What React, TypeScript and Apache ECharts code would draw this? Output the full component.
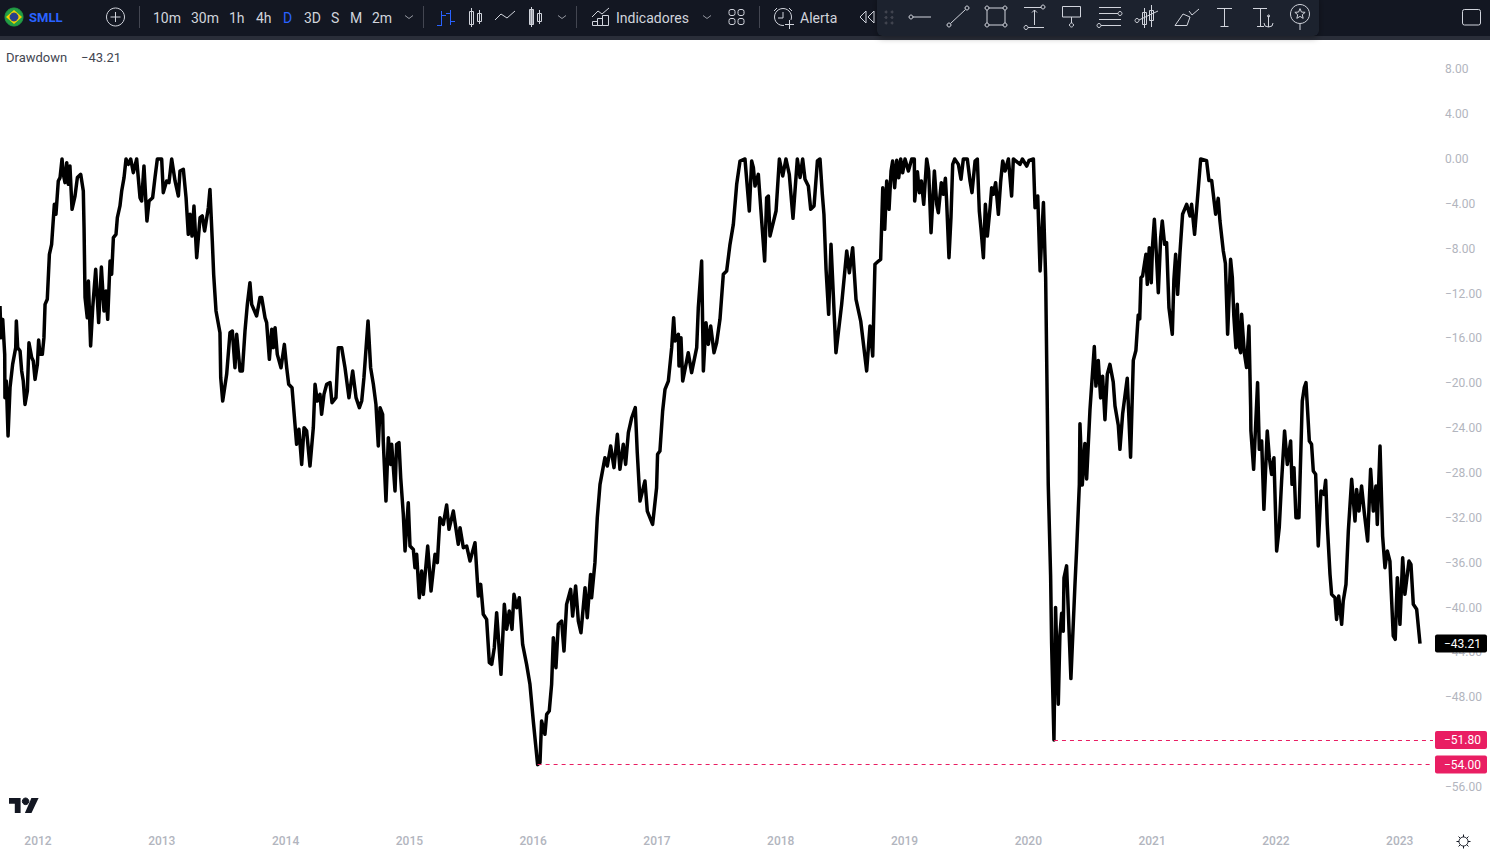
import React, { useEffect, useRef } from "react";
import * as echarts from "echarts";

const yearLabels = [2012, 2013, 2014, 2015, 2016, 2017, 2018, 2019, 2020, 2021, 2022, 2023];
const priceLabels = [8, 4, 0, -4, -8, -12, -16, -20, -24, -28, -32, -36, -40, -44, -48, -52, -56];
const lastValue = -43.21;
const troughs: [number, number][] = [[2016.036, -54], [2020.207, -51.8]];
const intervals = ["10m", "30m", "1h", "4h", "D", "3D", "S", "M", "2m"];

const period2011: [number, number][] = [
[2011.693,-13.11],[2011.701,-15.93],[2011.715,-14.30],[2011.731,-17.42],[2011.733,-21.28],[2011.744,-19.80],[2011.758,-24.70],[2011.774,-20.39],[2011.795,-18.31],[2011.820,-16.82],[2011.825,-14.44],[2011.836,-16.82],[2011.855,-17.12],[2011.868,-18.90],[2011.881,-19.80],[2011.895,-21.88],[2011.914,-20.69],[2011.927,-16.38],[2011.949,-17.71],[2011.962,-18.01],[2011.976,-19.65],[2011.995,-18.31],
];
const period2012: [number, number][] = [
[2012.005,-16.14],[2012.016,-17.42],[2012.035,-17.42],[2012.048,-15.93],[2012.057,-12.96],[2012.075,-12.51],[2012.092,-8.50],[2012.110,-7.61],[2012.132,-4.04],[2012.145,-4.93],[2012.164,-1.96],[2012.178,-1.66],[2012.194,0],[2012.205,-1.37],[2012.218,-2.11],[2012.232,-0.33],[2012.245,-2.26],[2012.258,-0.62],[2012.275,-4.49],[2012.299,-3.30],[2012.318,-1.66],[2012.345,-1.37],[2012.366,-2.85],[2012.372,-6.12],[2012.380,-12.36],[2012.398,-14.15],[2012.407,-10.88],[2012.425,-16.67],[2012.442,-13.26],[2012.466,-9.84],[2012.490,-14.59],[2012.512,-9.63],[2012.533,-13.55],[2012.549,-11.77],[2012.563,-14.30],[2012.582,-9.10],[2012.595,-10.28],[2012.609,-7.01],[2012.630,-6.72],[2012.641,-5.23],[2012.662,-4.19],[2012.676,-2.85],[2012.695,-1.66],[2012.711,0],[2012.730,-0.48],[2012.749,0],[2012.770,-1.22],[2012.797,0],[2012.824,-3.45],[2012.837,-3.75],[2012.856,-0.62],[2012.880,-5.53],[2012.897,-3.75],[2012.926,-3.45],[2012.945,-1.66],[2012.964,0],[2012.999,0],
];
const period2013: [number, number][] = [
[2013.012,-3.00],[2013.039,-1.96],[2013.058,-2.11],[2013.080,0],[2013.107,-1.96],[2013.134,-3.30],[2013.147,-1.07],[2013.174,-0.92],[2013.196,-3.45],[2013.214,-6.72],[2013.228,-4.93],[2013.244,-6.87],[2013.260,-4.19],[2013.282,-8.80],[2013.309,-5.23],[2013.327,-5.08],[2013.346,-6.42],[2013.376,-4.34],[2013.389,-2.71],[2013.408,-7.31],[2013.419,-10.28],[2013.438,-13.55],[2013.470,-15.49],[2013.476,-19.50],[2013.492,-21.58],[2013.524,-19.20],[2013.551,-15.49],[2013.570,-15.34],[2013.591,-18.61],[2013.605,-15.63],[2013.632,-18.90],[2013.651,-18.90],[2013.672,-15.34],[2013.691,-12.96],[2013.712,-11.03],[2013.726,-12.96],[2013.766,-14.00],[2013.793,-12.36],[2013.807,-12.36],[2013.834,-14.15],[2013.847,-14.59],[2013.869,-17.86],[2013.888,-15.19],[2013.901,-16.82],[2013.915,-15.04],[2013.933,-17.42],[2013.963,-18.61],[2013.990,-16.53],
];
const period2014: [number, number][] = [
[2014.009,-18.61],[2014.025,-20.09],[2014.052,-20.39],[2014.076,-23.66],[2014.089,-25.44],[2014.108,-24.10],[2014.130,-27.23],[2014.149,-23.96],[2014.170,-24.25],[2014.197,-27.38],[2014.224,-23.96],[2014.238,-20.09],[2014.256,-21.58],[2014.278,-20.99],[2014.291,-22.77],[2014.310,-20.99],[2014.332,-20.09],[2014.359,-19.94],[2014.375,-21.73],[2014.407,-21.28],[2014.426,-16.82],[2014.453,-16.82],[2014.480,-18.61],[2014.512,-21.28],[2014.542,-18.90],[2014.569,-21.28],[2014.596,-22.17],[2014.615,-21.58],[2014.633,-19.50],[2014.666,-14.44],[2014.687,-18.61],[2014.709,-20.09],[2014.730,-21.88],[2014.749,-25.59],[2014.763,-22.17],[2014.784,-22.77],[2014.789,-25.15],[2014.811,-30.50],[2014.830,-24.85],[2014.849,-27.23],[2014.857,-25.44],[2014.884,-29.60],[2014.897,-25.44],[2014.916,-25.29],[2014.930,-28.42],[2014.951,-31.68],[2014.965,-34.95],[2014.991,-30.64],
];
const period2015: [number, number][] = [
[2015.005,-34.51],[2015.032,-34.81],[2015.045,-36.44],[2015.059,-35.25],[2015.080,-39.12],[2015.099,-36.74],[2015.113,-38.82],[2015.148,-34.51],[2015.175,-38.52],[2015.207,-35.25],[2015.226,-35.99],[2015.247,-31.98],[2015.274,-32.58],[2015.301,-30.85],[2015.320,-33.02],[2015.355,-31.39],[2015.395,-34.36],[2015.409,-32.87],[2015.436,-34.66],[2015.463,-34.51],[2015.490,-35.85],[2015.530,-34.21],[2015.557,-38.97],[2015.576,-37.93],[2015.597,-40.60],[2015.624,-41.05],[2015.646,-44.91],[2015.665,-45.06],[2015.686,-43.57],[2015.705,-40.45],[2015.740,-45.95],[2015.767,-39.71],[2015.786,-41.94],[2015.807,-40.30],[2015.829,-41.94],[2015.845,-38.82],[2015.867,-40.01],[2015.888,-39.12],[2015.915,-43.28],[2015.947,-45.06],[2015.974,-46.84],
];
const period2016: [number, number][] = [
[2016.001,-50.11],[2016.036,-54.00],[2016.055,-53.83],[2016.068,-50.11],[2016.095,-51.30],[2016.109,-49.52],[2016.130,-49.22],[2016.149,-46.84],[2016.163,-42.68],[2016.184,-45.36],[2016.203,-41.49],[2016.230,-41.20],[2016.249,-43.87],[2016.270,-39.71],[2016.303,-38.37],[2016.319,-40.75],[2016.343,-38.07],[2016.365,-41.20],[2016.386,-42.24],[2016.419,-38.22],[2016.437,-40.90],[2016.464,-37.04],[2016.472,-39.12],[2016.499,-35.99],[2016.518,-31.98],[2016.540,-29.01],[2016.580,-26.63],[2016.599,-27.37],[2016.626,-25.59],[2016.653,-27.52],[2016.680,-24.55],[2016.701,-27.67],[2016.728,-25.44],[2016.747,-27.23],[2016.769,-24.40],[2016.796,-23.07],[2016.825,-22.17],[2016.841,-26.19],[2016.863,-30.50],[2016.903,-28.71],[2016.922,-31.39],[2016.965,-32.58],[2016.997,-29.31],
];
const period2017: [number, number][] = [
[2017.005,-26.33],[2017.024,-26.04],[2017.046,-22.47],[2017.065,-20.54],[2017.092,-19.80],[2017.119,-16.82],[2017.135,-14.15],[2017.146,-16.23],[2017.173,-15.63],[2017.178,-18.46],[2017.194,-15.93],[2017.208,-19.80],[2017.253,-17.27],[2017.280,-19.05],[2017.321,-16.82],[2017.334,-13.26],[2017.361,-9.10],[2017.375,-18.90],[2017.396,-14.60],[2017.415,-16.53],[2017.434,-14.89],[2017.461,-17.27],[2017.482,-16.38],[2017.509,-14.30],[2017.536,-10.28],[2017.563,-9.99],[2017.590,-7.61],[2017.617,-5.83],[2017.644,-2.26],[2017.671,-0.18],[2017.711,0],[2017.746,-4.64],[2017.765,-0.18],[2017.779,-0.77],[2017.792,-2.41],[2017.819,-1.37],[2017.846,-5.53],[2017.870,-9.10],[2017.886,-3.45],[2017.900,-3.30],[2017.913,-6.87],[2017.962,-4.64],[2017.989,0],
];
const period2018: [number, number][] = [
[2018.016,-1.52],[2018.042,0],[2018.069,-1.37],[2018.099,-5.29],[2018.134,0],[2018.156,-1.66],[2018.177,0],[2018.196,-1.81],[2018.223,-2.41],[2018.242,-4.49],[2018.269,-4.19],[2018.296,-0.18],[2018.317,0],[2018.336,-3.15],[2018.349,-4.93],[2018.366,-9.84],[2018.387,-13.85],[2018.406,-7.61],[2018.446,-17.27],[2018.492,-12.96],[2018.533,-8.20],[2018.554,-10.14],[2018.581,-7.91],[2018.608,-12.51],[2018.646,-14.45],[2018.694,-18.90],[2018.721,-14.89],[2018.743,-17.57],[2018.761,-9.39],[2018.790,-9.10],
[2018.807,-8.95],[2018.824,-2.56],[2018.840,-6.27],[2018.856,-1.96],[2018.875,-4.49],[2018.891,-1.07],[2018.904,-0.18],[2018.920,-2.56],[2018.937,-0.12],[2018.953,-1.67],[2018.969,0],[2018.985,-1.22],
];
const period2019: [number, number][] = [
[2019.004,0],[2019.031,-1.07],[2019.058,0],[2019.079,0],[2019.082,-3.75],[2019.104,-1.13],[2019.120,-3.00],[2019.136,-1.96],[2019.155,-4.04],[2019.179,0],[2019.195,-1.07],[2019.214,-6.57],[2019.241,-1.07],[2019.260,-4.04],[2019.273,-4.79],[2019.297,-2.11],[2019.314,-3.15],[2019.330,-1.72],[2019.340,-3.75],[2019.359,-8.80],[2019.375,-5.23],[2019.389,-0.48],[2019.405,0],[2019.435,-0.48],[2019.456,-1.81],[2019.475,0],[2019.507,0],[2019.529,-1.96],[2019.545,-3.00],[2019.570,-0.18],[2019.588,0],[2019.604,-4.64],[2019.618,-6.27],[2019.637,-8.80],[2019.653,-4.04],[2019.669,-6.87],[2019.691,-4.34],[2019.704,-2.56],[2019.717,-3.15],[2019.736,-2.11],[2019.758,-4.93],[2019.777,-1.96],[2019.793,-0.18],[2019.812,-1.07],[2019.839,0],[2019.865,-3.30],[2019.879,0],[2019.933,-0.48],[2019.952,0],[2019.987,-0.63],
];
const period2020: [number, number][] = [
[2020.006,-0.12],[2020.041,0],[2020.054,-4.34],[2020.076,-3.30],[2020.095,-9.99],[2020.122,-3.89],[2020.140,-10.58],[2020.161,-29.06],[2020.180,-37.16],[2020.188,-43.16],[2020.207,-51.80],[2020.220,-39.98],[2020.242,-48.62],[2020.255,-42.45],[2020.269,-40.51],[2020.282,-42.10],[2020.288,-37.34],[2020.309,-36.28],[2020.344,-46.33],[2020.377,-37.87],[2020.390,-34.87],[2020.412,-29.06],[2020.417,-23.60],[2020.436,-29.06],[2020.457,-25.36],[2020.471,-28.53],[2020.498,-22.36],[2020.533,-16.72],[2020.546,-20.25],[2020.565,-17.96],[2020.584,-21.30],[2020.600,-19.37],[2020.619,-23.24],[2020.638,-19.19],[2020.659,-18.31],[2020.686,-19.90],[2020.700,-22.01],[2020.727,-23.77],[2020.740,-25.89],[2020.762,-22.71],[2020.799,-19.54],[2020.826,-26.59],[2020.848,-17.96],[2020.869,-17.07],[2020.888,-13.90],[2020.900,-14.26],[2020.910,-10.58],[2020.923,-10.43],[2020.950,-8.50],[2020.961,-11.18],[2020.977,-7.91],[2020.993,-11.03],
];
const period2021: [number, number][] = [
[2021.004,-7.61],[2021.018,-5.38],[2021.036,-8.80],[2021.050,-11.92],[2021.069,-7.01],[2021.082,-5.53],[2021.101,-7.61],[2021.117,-7.46],[2021.136,-13.26],[2021.163,-15.63],[2021.176,-10.73],[2021.190,-8.50],[2021.206,-12.07],[2021.225,-8.35],[2021.246,-4.93],[2021.279,-4.04],[2021.306,-5.08],[2021.319,-4.04],[2021.343,-6.72],[2021.373,-2.62],[2021.392,0],[2021.440,-0.16],[2021.459,-1.92],[2021.481,-1.92],[2021.513,-4.92],[2021.534,-3.51],[2021.548,-5.53],[2021.575,-8.20],[2021.592,-9.32],[2021.610,-15.63],[2021.634,-8.95],[2021.648,-10.55],[2021.660,-14.00],[2021.677,-16.82],[2021.688,-12.96],[2021.700,-16.50],[2021.715,-17.27],[2021.723,-13.85],[2021.745,-17.30],[2021.763,-18.60],[2021.782,-14.89],[2021.796,-22.17],[2021.798,-24.25],[2021.820,-27.67],[2021.852,-19.94],[2021.866,-25.89],[2021.885,-25.15],[2021.903,-31.24],[2021.930,-24.25],[2021.947,-26.63],[2021.965,-28.12],[2021.984,-26.63],
];
const period2022: [number, number][] = [
[2022.006,-34.95],[2022.027,-32.87],[2022.046,-28.71],[2022.070,-24.25],[2022.092,-27.23],[2022.119,-25.15],[2022.130,-29.01],[2022.146,-27.52],[2022.162,-31.98],[2022.186,-31.98],[2022.213,-21.58],[2022.229,-20.39],[2022.243,-19.94],[2022.270,-25.15],[2022.288,-25.44],[2022.302,-27.82],[2022.321,-28.12],[2022.342,-34.51],[2022.364,-29.60],[2022.388,-29.90],[2022.402,-28.65],[2022.415,-32.58],[2022.437,-37.03],[2022.450,-38.82],[2022.477,-39.12],[2022.490,-41.05],[2022.507,-38.97],[2022.531,-41.49],[2022.544,-39.41],[2022.566,-37.93],[2022.585,-33.17],[2022.612,-28.56],[2022.639,-32.28],[2022.652,-29.46],[2022.671,-31.39],[2022.692,-29.16],[2022.714,-31.54],[2022.741,-34.06],[2022.765,-27.67],[2022.787,-31.39],[2022.808,-29.16],[2022.819,-32.58],[2022.841,-25.59],[2022.862,-33.62],[2022.881,-36.44],[2022.900,-34.95],[2022.921,-35.85],[2022.929,-37.93],[2022.948,-42.53],[2022.964,-42.83],[2022.981,-37.33],
];
const period2023: [number, number][] = [
[2023.002,-41.49],[2023.024,-35.55],[2023.042,-38.82],[2023.075,-35.85],[2023.091,-36.14],[2023.110,-39.71],[2023.137,-40.15],[2023.164,-43.21],
];

const drawdownPoints = [
  ...period2011, ...period2012, ...period2013, ...period2014, ...period2015, ...period2016, ...period2017,
  ...period2018, ...period2019, ...period2020, ...period2021, ...period2022, ...period2023,
];

const X_MIN = 2011.693;
const X_MAX = 2023.269;
const Y_MIN = -59.74;
const Y_MAX = 10.52;
const fmt = (v: number) => (v < 0 ? "\u2212" : "") + Math.abs(v).toFixed(2);

const UI = "#d1d4dc";
const BLUE = "#2962ff";
const PINK = "#e91e63";

const ln = (x1: number, y1: number, x2: number, y2: number, stroke = UI, lineWidth = 1) => ({
  type: "line", silent: true, z: 11, shape: { x1, y1, x2, y2 }, style: { stroke, lineWidth, fill: "none" },
});
const ci = (cx: number, cy: number, r: number, stroke = UI, fill = "none") => ({
  type: "circle", silent: true, z: 11, shape: { cx, cy, r }, style: { stroke, fill, lineWidth: 1 },
});
const re = (x: number, y: number, width: number, height: number, stroke = UI, fill = "none", r = 0) => ({
  type: "rect", silent: true, z: 11, shape: { x, y, width, height, r }, style: { stroke, fill, lineWidth: 1 },
});
const pl = (points: number[][], stroke = UI, lineWidth = 1) => ({
  type: "polyline", silent: true, z: 11, shape: { points }, style: { stroke, lineWidth, fill: "none" },
});
const pg = (points: number[][], fill: string, stroke = "none") => ({
  type: "polygon", silent: true, z: 11, shape: { points }, style: { fill, stroke, lineWidth: 1 },
});
const tx = (x: number, y: number, text: string, fill: string, font: string) => ({
  type: "text", silent: true, z: 12, style: { x, y, text, fill, font, verticalAlign: "middle", align: "left" },
});
const chevron = (x: number) => pl([[x - 4, 15.5], [x, 18.5], [x + 4, 15.5]], "#9598a1");

function toolbar(): any[] {
  const intervalX = [153, 191, 229, 256, 283, 304, 331, 350, 372];
  const star: number[][] = [];
  for (let i = 0; i < 10; i++) {
    const r = i % 2 ? 2.4 : 5.4;
    const a = -Math.PI / 2 + (i * Math.PI) / 5;
    star.push([1300 + r * Math.cos(a), 14 + r * Math.sin(a)]);
  }
  return [
    { type: "rect", silent: true, z: 10, shape: { x: 0, y: 0, width: 1490, height: 36 }, style: { fill: "#131722" } },
    { type: "rect", silent: true, z: 10, shape: { x: 0, y: 36, width: 1490, height: 4 }, style: { fill: "#2a2e39" } },
    // flag and symbol
    ci(14, 17, 9, "#229e45", "#229e45"),
    pg([[14, 10], [22, 17], [14, 24], [6, 17]], "#f5d000"),
    ci(14, 17, 4, "#27408b", "#27408b"),
    tx(29, 17.5, "SMLL", BLUE, "bold 13px Roboto"),
    ci(115.5, 17, 9), ln(110.5, 17, 120.5, 17), ln(115.5, 12, 115.5, 22),
    ln(139.5, 6, 139.5, 28, "#434651"),
    ...intervals.map((t, i) => tx(intervalX[i], 17.5, t, t === "D" ? BLUE : UI, "14px Roboto")),
    chevron(409),
    ln(423.5, 6, 423.5, 28, "#434651"),
    // bar icon
    ln(441.5, 11, 441.5, 26, BLUE), ln(437, 25.5, 441.5, 25.5, BLUE), ln(441.5, 15.5, 446, 15.5, BLUE),
    ln(450.5, 10, 450.5, 25, BLUE), ln(446, 13.5, 450.5, 13.5, BLUE), ln(450.5, 21.5, 455, 21.5, BLUE),
    // candle icon
    re(469.5, 11.5, 4, 13), ln(471.5, 8, 471.5, 27), re(477.5, 13.5, 4, 8), ln(479.5, 10, 479.5, 24),
    // line icon
    pl([[495, 20], [501, 14], [507, 18], [515, 11]]),
    // hollow candle icon
    re(529.5, 9.5, 4, 15, UI, "#9598a1"), ln(531.5, 7, 531.5, 27), re(537.5, 13.5, 4, 8), ln(539.5, 10, 539.5, 24),
    chevron(562),
    ln(576.5, 6, 576.5, 28, "#434651"),
    // indicators
    pl([[592, 17], [598, 11], [602, 14], [609, 8]]),
    re(592.5, 21.5, 5, 4), re(597.5, 18.5, 5, 7), re(602.5, 15.5, 6, 10),
    tx(616, 17.5, "Indicadores", UI, "14px Roboto"),
    chevron(707),
    re(729, 9.5, 6, 6, UI, "none", 2), re(738, 9.5, 6, 6, UI, "none", 2), re(729, 18.5, 6, 6, UI, "none", 2), re(738, 18.5, 6, 6, UI, "none", 2),
    ln(759.5, 6, 759.5, 28, "#434651"),
    // alert
    ci(783, 17, 8.5), ln(783, 12, 783, 18), ln(778, 18, 783, 18), ln(774, 11, 777, 8), ln(789, 8, 792, 11),
    { ...re(784, 20, 10, 9, "none", "#131722") }, ln(785, 24.5, 794, 24.5), ln(789.5, 20, 789.5, 29),
    tx(800, 17.5, "Alerta", UI, "14px Roboto"),
    pg([[866, 11], [860, 17], [866, 23]], "none", UI), pg([[874, 11], [868, 17], [874, 23]], "none", UI),
    // floating drawing tools panel
    { type: "rect", silent: true, z: 10, shape: { x: 877, y: -6, width: 442, height: 42, r: 6 }, style: { fill: "#1e222d", shadowBlur: 6, shadowColor: "rgba(0,0,0,0.35)", shadowOffsetY: 2 } },
    ...[886, 892].flatMap((x) => [12, 17.5, 23].map((y) => ci(x, y, 1, "#434651", "#434651"))),
    ci(911, 17, 2), ln(913, 17, 931, 17),
    ci(949, 25, 2), ci(967, 8, 2), ln(950.5, 23.5, 965.5, 9.5),
    ci(987, 8, 2), ci(1005, 8, 2), ci(987, 25, 2), ci(1005, 25, 2), ln(989, 8, 1003, 8), ln(989, 25, 1003, 25), ln(987, 10, 987, 23), ln(1005, 10, 1005, 23),
    ln(1024, 7.5, 1041, 7.5), ci(1043, 7, 2), ln(1028, 27.5, 1044, 27.5), ci(1026, 27.5, 2), ln(1034.5, 10, 1034.5, 25), pl([[1032, 12.5], [1034.5, 10], [1037, 12.5]]),
    re(1062.5, 6.5, 18, 10.5), ln(1071.5, 17, 1071.5, 23), ci(1071.5, 25, 2),
    ln(1099, 7.5, 1121, 7.5), ln(1099, 13.5, 1118, 13.5), ci(1120, 13.5, 2), ln(1099, 19.5, 1121, 19.5), ln(1101, 25.5, 1121, 25.5), ci(1099, 25.5, 2),
    re(1142.5, 12.5, 4, 12), ln(1144.5, 8, 1144.5, 28), re(1149.5, 10.5, 4, 10), ln(1151.5, 5, 1151.5, 27), ci(1137, 20.5, 2), ln(1139, 20, 1158, 11),
    pg([[1175, 25.5], [1183, 14], [1190, 17], [1187, 25.5]], "none", UI), pl([[1189, 11], [1192, 15], [1199, 9]]),
    ln(1217, 8.5, 1232, 8.5), ln(1224.5, 8.5, 1224.5, 26), ln(1220.5, 26.5, 1228.5, 26.5),
    ln(1253, 8.5, 1267, 8.5), ln(1260.5, 8.5, 1260.5, 26), ln(1257, 26.5, 1264, 26.5), ln(1268.5, 16, 1268.5, 27), ci(1268.5, 16, 1), pl([[1264, 23], [1265, 26], [1268.5, 27], [1272, 26], [1273, 23]]),
    ci(1300, 14, 9.5), pg(star, "none", UI), ln(1300, 24, 1300, 30),
    re(1462.5, 9.5, 18, 15.5, UI, "none", 2),
    // legend
    tx(6, 57, "Drawdown", "#434651", "13px Roboto"),
    tx(81, 57, fmt(lastValue), "#434651", "13px Roboto"),
    // logo
    pg([[9, 798], [20.6, 798], [20.6, 813], [14.8, 813], [14.8, 803.8], [9, 803.8]], "#131722"),
    ci(25.6, 801.3, 3.3, "#131722", "#131722"),
    pg([[31.4, 798], [38.6, 798], [31.5, 813], [24.9, 813]], "#131722"),
    // settings
    ci(1463.5, 841.5, 4.5, "#131722"),
    ...[0, 1, 2, 3, 4, 5, 6, 7].map((i) => {
      const a = (i * Math.PI) / 4;
      return ln(1463.5 + 4.5 * Math.cos(a), 841.5 + 4.5 * Math.sin(a), 1463.5 + 7 * Math.cos(a), 841.5 + 7 * Math.sin(a), "#131722");
    }),
  ];
}

const tagLabel = (bg: string) => ({
  show: true,
  position: "end" as const,
  distance: 2,
  formatter: (p: any) => fmt(p.data.tagValue),
  color: "#ffffff",
  backgroundColor: bg,
  fontFamily: "Roboto",
  fontSize: 12,
  lineHeight: 12,
  padding: [3, 6, 3, 9],
  borderRadius: 2,
});

export default function App() {
  const ref = useRef<HTMLDivElement>(null);
  useEffect(() => {
    document.body.style.margin = "0";
    const chart = echarts.init(ref.current!, null, { renderer: "svg" });
    chart.setOption({
      animation: false,
      backgroundColor: "#ffffff",
      grid: { left: 0, right: 57, top: 41, bottom: 23 },
      xAxis: {
        type: "value",
        min: X_MIN,
        max: X_MAX,
        splitLine: { show: false },
        axisLine: { show: false },
        axisTick: { show: false },
        axisLabel: {
          customValues: yearLabels,
          formatter: (v: number) => String(Math.round(v)),
          color: "#b2b5be",
          fontFamily: "Roboto",
          fontSize: 12,
          fontWeight: 500,
          margin: 6,
        },
      },
      yAxis: {
        type: "value",
        position: "right",
        min: Y_MIN,
        max: Y_MAX,
        splitLine: { show: false },
        axisLine: { show: false },
        axisTick: { show: false },
        axisLabel: {
          customValues: priceLabels,
          formatter: (v: number) => fmt(v),
          color: "#b2b5be",
          fontFamily: "Roboto",
          fontSize: 12,
          margin: 12,
        },
      },
      graphic: { elements: toolbar() },
      series: [
        {
          type: "line",
          data: drawdownPoints,
          showSymbol: false,
          symbol: "none",
          silent: true,
          lineStyle: { color: "#000000", width: 3.5, join: "round" },
          markLine: {
            silent: true,
            symbol: ["none", "none"],
            animation: false,
            lineStyle: { color: PINK, width: 1, type: [4, 4], opacity: 1 },
            data: [
              ...troughs.map(([x, v]) => [
                { coord: [x, v], tagValue: v, label: tagLabel(PINK) },
                { coord: [X_MAX, v] },
              ]),
              [
                { coord: [2023.164, lastValue], tagValue: lastValue, lineStyle: { color: "rgba(0,0,0,0)", width: 0 }, label: tagLabel("#000000") },
                { coord: [X_MAX, lastValue] },
              ],
            ],
          },
        },
      ],
    });
    return () => chart.dispose();
  }, []);
  return <div ref={ref} style={{ width: 1490, height: 852 }} />;
}
